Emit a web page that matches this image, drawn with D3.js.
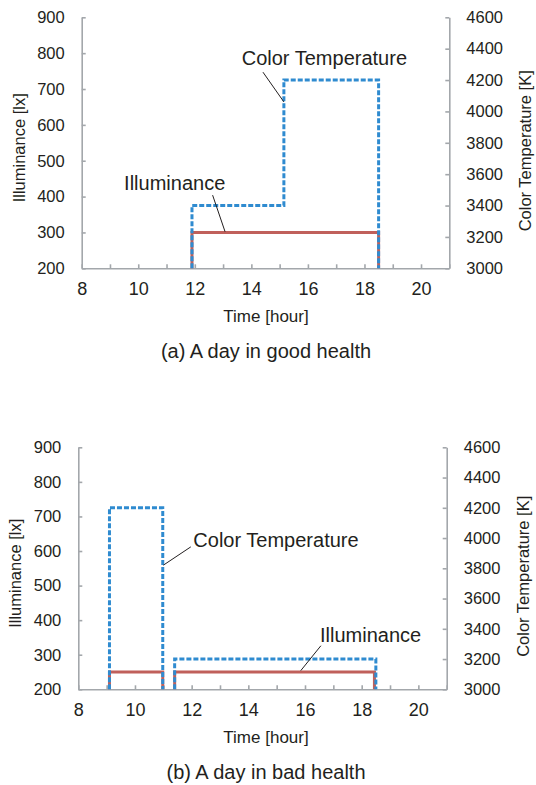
<!DOCTYPE html>
<html lang="en">
<head>
<meta charset="UTF-8">
<title>Illuminance and color temperature</title>
<style>
  body { margin: 0; background: #fff; }
  svg text { font-family: "Liberation Sans", Arial, sans-serif; fill: #231f20; }
  .axis path, .axis line { stroke: #a3a7ab; stroke-width: 1.6; }
</style>
</head>
<body>
<svg id="chart" width="536" height="785"></svg>
<script src="https://d3js.org/d3.v7.min.js"></script>
<script>
// x axis ticks (hours) and y ticks
var hourTicks = d3.range(8, 22, 1);
var illTicks = [200, 300, 400, 500, 600, 700, 800, 900];
var ctTicks = [3000, 3200, 3400, 3600, 3800, 4000, 4200, 4400, 4600];

// (a) good health
var aIllTime = [11.9, 11.9, 18.5, 18.5];
var aIll = [200, 300, 300, 200];
var aCtTime = [11.9, 11.9, 15.15, 15.15, 18.5, 18.5];
var aCt = [3000, 3400, 3400, 4200, 4200, 3000];

// (b) bad health (null splits the two sessions)
var bIllTime = [9.1, 9.1, 10.98, 10.98, null, 11.4, 11.4, 18.45, 18.45];
var bIll = [200, 250, 250, 200, null, 200, 250, 250, 200];
var bCtTime = [9.1, 9.1, 10.98, 10.98, null, 11.4, 11.4, 18.5, 18.5];
var bCt = [3000, 4200, 4200, 3000, null, 3000, 3200, 3200, 3000];

var svg = d3.select("#chart");

function zip(t, v) {
  return t.map(function (d, i) { return { t: d, v: v[i] }; });
}

function panel(p) {
  var x = d3.scaleLinear().domain([8, 21]).range([p.left, p.right]);
  var yL = d3.scaleLinear().domain([200, 900]).range([p.bottom, p.top]);
  var yR = d3.scaleLinear().domain([3000, 4600]).range([p.bottom, p.top]);

  var g = svg.append("g");

  g.append("g").attr("class", "axis")
    .attr("transform", "translate(0," + p.bottom + ")")
    .call(d3.axisBottom(x).tickValues(hourTicks).tickSizeInner(-4).tickSizeOuter(0).tickPadding(14)
      .tickFormat(function (d) { return d % 2 === 0 && d <= 20 ? d : ""; }))
    .call(function (a) { a.selectAll("text").style("font-size", "18px"); });

  g.append("g").attr("class", "axis")
    .attr("transform", "translate(" + p.left + ",0)")
    .call(d3.axisLeft(yL).tickValues(illTicks).tickSizeInner(-4).tickSizeOuter(0).tickPadding(17)
      .tickFormat(d3.format("d")))
    .call(function (a) { a.selectAll("text").style("font-size", "16.5px"); });

  g.append("g").attr("class", "axis")
    .attr("transform", "translate(" + p.right + ",0)")
    .call(d3.axisRight(yR).tickValues(ctTicks).tickSizeInner(-4).tickSizeOuter(0).tickPadding(17)
      .tickFormat(d3.format("d")))
    .call(function (a) { a.selectAll("text").style("font-size", "16.5px"); });

  g.selectAll(".domain").attr("stroke", "#a3a7ab");

  var lineL = d3.line().defined(function (d) { return d.t !== null; })
    .x(function (d) { return x(d.t); }).y(function (d) { return yL(d.v); });
  var lineR = d3.line().defined(function (d) { return d.t !== null; })
    .x(function (d) { return x(d.t); }).y(function (d) { return yR(d.v); });

  g.append("path").datum(zip(p.illTime, p.ill))
    .attr("d", lineL).attr("fill", "none")
    .attr("stroke", "#c0605b").attr("stroke-width", 3);

  g.append("path").datum(zip(p.ctTime, p.ct))
    .attr("d", lineR).attr("fill", "none")
    .attr("stroke", "#2f8bd0").attr("stroke-width", 3)
    .attr("stroke-dasharray", "5,2");

  // annotation labels with leader lines (in data units)
  p.notes.forEach(function (n) {
    g.append("line")
      .attr("x1", x(n.from[0])).attr("y1", yL(n.from[1]))
      .attr("x2", x(n.to[0])).attr("y2", yL(n.to[1]))
      .attr("stroke", "#231f20").attr("stroke-width", 1);
    g.append("text").attr("x", x(n.at[0])).attr("y", yL(n.at[1]))
      .style("font-size", "20px").text(n.text);
  });

  g.append("text")
    .attr("transform", "translate(" + (p.left - 57) + "," + ((p.top + p.bottom) / 2 + 5) + ") rotate(-90)")
    .attr("text-anchor", "middle").style("font-size", "16.5px")
    .text("Illuminance [lx]");

  g.append("text")
    .attr("transform", "translate(" + (p.right + 82) + "," + ((p.top + p.bottom) / 2 + 8) + ") rotate(-90)")
    .attr("text-anchor", "middle").style("font-size", "16.5px")
    .text("Color Temperature [K]");

  g.append("text").attr("x", 266).attr("y", p.bottom + 54)
    .attr("text-anchor", "middle").style("font-size", "17px")
    .text("Time [hour]");

  g.append("text").attr("x", 266).attr("y", p.bottom + 90)
    .attr("text-anchor", "middle").style("font-size", "20px")
    .text(p.caption);
}

panel({
  left: 81.7, right: 449.3, top: 17.3, bottom: 268.3,
  illTime: aIllTime, ill: aIll, ctTime: aCtTime, ct: aCt,
  caption: "(a) A day in good health",
  notes: [
    { text: "Color Temperature", at: [13.66, 767], from: [14.41, 747], to: [15.15, 664] },
    { text: "Illuminance", at: [9.5, 418], from: [12.63, 404], to: [13.07, 302] }
  ]
});

panel({
  left: 78.3, right: 446.7, top: 447.3, bottom: 689.3,
  illTime: bIllTime, ill: bIll, ctTime: bCtTime, ct: bCt,
  caption: "(b) A day in bad health",
  notes: [
    { text: "Color Temperature", at: [12.06, 611], from: [11.97, 612], to: [11.0, 559] },
    { text: "Illuminance", at: [16.53, 337], from: [16.56, 326], to: [15.85, 254] }
  ]
});
</script>
</body>
</html>
